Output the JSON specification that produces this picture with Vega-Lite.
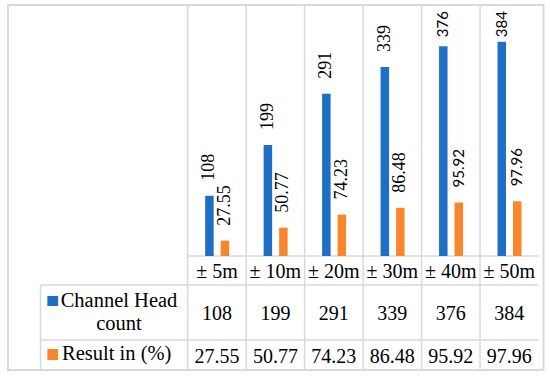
{
  "$schema": "https://vega.github.io/schema/vega-lite/v6.json",
  "width": 535.5,
  "height": 365,
  "autosize": {"type": "none"},
  "padding": {"left": 8, "top": 5, "right": 6.5, "bottom": 6},
  "config": {
    "view": {"stroke": "#d9d9d9", "strokeWidth": 2}
  },
  "data": {
    "values": [
      {"dist": "± 5m", "idx": 0, "series": "Channel Head count", "value": 108},
      {"dist": "± 10m", "idx": 1, "series": "Channel Head count", "value": 199},
      {"dist": "± 20m", "idx": 2, "series": "Channel Head count", "value": 291},
      {"dist": "± 30m", "idx": 3, "series": "Channel Head count", "value": 339},
      {"dist": "± 40m", "idx": 4, "series": "Channel Head count", "value": 376},
      {"dist": "± 50m", "idx": 5, "series": "Channel Head count", "value": 384},
      {"dist": "± 5m", "idx": 0, "series": "Result in (%)", "value": 27.55},
      {"dist": "± 10m", "idx": 1, "series": "Result in (%)", "value": 50.77},
      {"dist": "± 20m", "idx": 2, "series": "Result in (%)", "value": 74.23},
      {"dist": "± 30m", "idx": 3, "series": "Result in (%)", "value": 86.48},
      {"dist": "± 40m", "idx": 4, "series": "Result in (%)", "value": 95.92},
      {"dist": "± 50m", "idx": 5, "series": "Result in (%)", "value": 97.96}
    ]
  },
  "layer": [
    {"data": {"values": [{}]}, "mark": {"type": "rule", "color": "#d9d9d9", "strokeWidth": 1.5},
      "encoding": {"x": {"datum": -0.5, "type": "quantitative", "scale": {"type": "linear", "domain": [-3.4876, 5.5], "nice": false, "zero": false}, "axis": null},
        "y": {"datum": 450, "type": "quantitative", "scale": {"type": "linear", "domain": [-204.38, 450], "nice": false, "zero": false}, "axis": null}, "y2": {"datum": -204.38}}},
    {"data": {"values": [{}]}, "mark": {"type": "rule", "color": "#d9d9d9", "strokeWidth": 1.5},
      "encoding": {"x": {"datum": 0.5, "type": "quantitative", "scale": {"type": "linear", "domain": [-3.4876, 5.5], "nice": false, "zero": false}, "axis": null},
        "y": {"datum": 450, "type": "quantitative", "scale": {"type": "linear", "domain": [-204.38, 450], "nice": false, "zero": false}, "axis": null}, "y2": {"datum": -204.38}}},
    {"data": {"values": [{}]}, "mark": {"type": "rule", "color": "#d9d9d9", "strokeWidth": 1.5},
      "encoding": {"x": {"datum": 1.5, "type": "quantitative", "scale": {"type": "linear", "domain": [-3.4876, 5.5], "nice": false, "zero": false}, "axis": null},
        "y": {"datum": 450, "type": "quantitative", "scale": {"type": "linear", "domain": [-204.38, 450], "nice": false, "zero": false}, "axis": null}, "y2": {"datum": -204.38}}},
    {"data": {"values": [{}]}, "mark": {"type": "rule", "color": "#d9d9d9", "strokeWidth": 1.5},
      "encoding": {"x": {"datum": 2.5, "type": "quantitative", "scale": {"type": "linear", "domain": [-3.4876, 5.5], "nice": false, "zero": false}, "axis": null},
        "y": {"datum": 450, "type": "quantitative", "scale": {"type": "linear", "domain": [-204.38, 450], "nice": false, "zero": false}, "axis": null}, "y2": {"datum": -204.38}}},
    {"data": {"values": [{}]}, "mark": {"type": "rule", "color": "#d9d9d9", "strokeWidth": 1.5},
      "encoding": {"x": {"datum": 3.5, "type": "quantitative", "scale": {"type": "linear", "domain": [-3.4876, 5.5], "nice": false, "zero": false}, "axis": null},
        "y": {"datum": 450, "type": "quantitative", "scale": {"type": "linear", "domain": [-204.38, 450], "nice": false, "zero": false}, "axis": null}, "y2": {"datum": -204.38}}},
    {"data": {"values": [{}]}, "mark": {"type": "rule", "color": "#d9d9d9", "strokeWidth": 1.5},
      "encoding": {"x": {"datum": 4.5, "type": "quantitative", "scale": {"type": "linear", "domain": [-3.4876, 5.5], "nice": false, "zero": false}, "axis": null},
        "y": {"datum": 450, "type": "quantitative", "scale": {"type": "linear", "domain": [-204.38, 450], "nice": false, "zero": false}, "axis": null}, "y2": {"datum": -204.38}}},
    {
      "data": {"values": [{}]},
      "mark": {"type": "rule", "color": "#d9d9d9", "strokeWidth": 1.5},
      "encoding": {
        "x": {"datum": -0.5, "type": "quantitative", "scale": {"type": "linear", "domain": [-3.4876, 5.5], "nice": false, "zero": false}, "axis": null},
        "x2": {"datum": 5.5},
        "y": {"datum": 0, "type": "quantitative", "scale": {"type": "linear", "domain": [-204.38, 450], "nice": false, "zero": false}, "axis": null}
      }
    },
    {
      "data": {"values": [{}]},
      "mark": {"type": "rule", "color": "#d9d9d9", "strokeWidth": 1.5},
      "encoding": {
        "x": {"datum": -3.0173, "type": "quantitative", "scale": {"type": "linear", "domain": [-3.4876, 5.5], "nice": false, "zero": false}, "axis": null},
        "x2": {"datum": 5.5},
        "y": {"datum": -51.99, "type": "quantitative", "scale": {"type": "linear", "domain": [-204.38, 450], "nice": false, "zero": false}, "axis": null}
      }
    },
    {
      "data": {"values": [{}]},
      "mark": {"type": "rule", "color": "#d9d9d9", "strokeWidth": 1.5},
      "encoding": {
        "x": {"datum": -3.0173, "type": "quantitative", "scale": {"type": "linear", "domain": [-3.4876, 5.5], "nice": false, "zero": false}, "axis": null},
        "x2": {"datum": 5.5},
        "y": {"datum": -150.6, "type": "quantitative", "scale": {"type": "linear", "domain": [-204.38, 450], "nice": false, "zero": false}, "axis": null}
      }
    },
    {
      "data": {"values": [{}]},
      "mark": {"type": "rule", "color": "#d9d9d9", "strokeWidth": 1.5},
      "encoding": {
        "x": {"datum": -3.0173, "type": "quantitative", "scale": {"type": "linear", "domain": [-3.4876, 5.5], "nice": false, "zero": false}, "axis": null},
        "y": {"datum": -51.99, "type": "quantitative", "scale": {"type": "linear", "domain": [-204.38, 450], "nice": false, "zero": false}, "axis": null},
        "y2": {"datum": -204.38}
      }
    },
    {
      "transform": [{"filter": "datum.series === 'Channel Head count'"}],
      "mark": {"type": "bar", "orient": "vertical", "width": 8.5, "xOffset": -7.5, "color": "#1f70c4"},
      "encoding": {
        "x": {"field": "idx", "type": "quantitative", "scale": {"type": "linear", "domain": [-3.4876, 5.5], "nice": false, "zero": false}, "axis": null},
        "y": {"field": "value", "type": "quantitative", "scale": {"type": "linear", "domain": [-204.38, 450], "nice": false, "zero": false}, "axis": null}
      }
    },
    {
      "transform": [{"filter": "datum.series === 'Result in (%)'"}],
      "mark": {"type": "bar", "orient": "vertical", "width": 8.5, "xOffset": 8, "color": "#f7862c"},
      "encoding": {
        "x": {"field": "idx", "type": "quantitative", "scale": {"type": "linear", "domain": [-3.4876, 5.5], "nice": false, "zero": false}, "axis": null},
        "y": {"field": "value", "type": "quantitative", "scale": {"type": "linear", "domain": [-204.38, 450], "nice": false, "zero": false}, "axis": null}
      }
    },
    {
      "transform": [{"filter": "datum.series === 'Channel Head count' && datum.idx <= 3"}],
      "mark": {"type": "text", "angle": 270, "align": "left", "baseline": "middle", "yOffset": -15, "xOffset": -7.5, "fontSize": 18, "font": "Liberation Serif", "color": "#000000"},
      "encoding": {
        "x": {"field": "idx", "type": "quantitative", "scale": {"type": "linear", "domain": [-3.4876, 5.5], "nice": false, "zero": false}, "axis": null},
        "y": {"field": "value", "type": "quantitative", "scale": {"type": "linear", "domain": [-204.38, 450], "nice": false, "zero": false}, "axis": null},
        "text": {"field": "value", "type": "quantitative", "format": "d"}
      }
    },
    {
      "transform": [{"filter": "datum.series === 'Channel Head count' && datum.idx >= 4"}],
      "mark": {"type": "text", "angle": 270, "align": "right", "baseline": "middle", "xOffset": -7.5, "fontSize": 15, "font": "Lato", "color": "#000000"},
      "encoding": {
        "x": {"field": "idx", "type": "quantitative", "scale": {"type": "linear", "domain": [-3.4876, 5.5], "nice": false, "zero": false}, "axis": null},
        "y": {"datum": 439.2, "type": "quantitative", "scale": {"type": "linear", "domain": [-204.38, 450], "nice": false, "zero": false}, "axis": null},
        "text": {"field": "value", "type": "quantitative", "format": "d"}
      }
    },
    {
      "transform": [{"filter": "datum.series === 'Result in (%)' && datum.idx <= 3"}],
      "mark": {"type": "text", "angle": 270, "align": "left", "baseline": "middle", "yOffset": -15, "xOffset": 8, "fontSize": 18, "font": "Liberation Serif", "color": "#000000"},
      "encoding": {
        "x": {"field": "idx", "type": "quantitative", "scale": {"type": "linear", "domain": [-3.4876, 5.5], "nice": false, "zero": false}, "axis": null},
        "y": {"field": "value", "type": "quantitative", "scale": {"type": "linear", "domain": [-204.38, 450], "nice": false, "zero": false}, "axis": null},
        "text": {"field": "value", "type": "quantitative", "format": ".2f"}
      }
    },
    {
      "transform": [{"filter": "datum.series === 'Result in (%)' && datum.idx >= 4"}],
      "mark": {"type": "text", "angle": 270, "align": "left", "baseline": "middle", "yOffset": -15, "xOffset": 8, "fontSize": 15, "font": "Lato", "color": "#000000"},
      "encoding": {
        "x": {"field": "idx", "type": "quantitative", "scale": {"type": "linear", "domain": [-3.4876, 5.5], "nice": false, "zero": false}, "axis": null},
        "y": {"field": "value", "type": "quantitative", "scale": {"type": "linear", "domain": [-204.38, 450], "nice": false, "zero": false}, "axis": null},
        "text": {"field": "value", "type": "quantitative", "format": ".2f"}
      }
    },
    {
      "transform": [{"filter": "datum.series === 'Channel Head count'"}],
      "mark": {"type": "text", "align": "center", "baseline": "alphabetic", "fontSize": 20, "font": "Liberation Serif", "color": "#000000"},
      "encoding": {
        "x": {"field": "idx", "type": "quantitative", "scale": {"type": "linear", "domain": [-3.4876, 5.5], "nice": false, "zero": false}, "axis": null},
        "y": {"datum": -39.44, "type": "quantitative", "scale": {"type": "linear", "domain": [-204.38, 450], "nice": false, "zero": false}, "axis": null},
        "text": {"field": "dist", "type": "nominal"}
      }
    },
    {
      "transform": [{"filter": "datum.series === 'Channel Head count'"}],
      "mark": {"type": "text", "align": "center", "baseline": "alphabetic", "fontSize": 20, "font": "Liberation Serif", "color": "#000000"},
      "encoding": {
        "x": {"field": "idx", "type": "quantitative", "scale": {"type": "linear", "domain": [-3.4876, 5.5], "nice": false, "zero": false}, "axis": null},
        "y": {"datum": -114.2, "type": "quantitative", "scale": {"type": "linear", "domain": [-204.38, 450], "nice": false, "zero": false}, "axis": null},
        "text": {"field": "value", "type": "quantitative", "format": "d"}
      }
    },
    {
      "transform": [{"filter": "datum.series === 'Result in (%)'"}],
      "mark": {"type": "text", "align": "center", "baseline": "alphabetic", "fontSize": 20, "font": "Liberation Serif", "color": "#000000"},
      "encoding": {
        "x": {"field": "idx", "type": "quantitative", "scale": {"type": "linear", "domain": [-3.4876, 5.5], "nice": false, "zero": false}, "axis": null},
        "y": {"datum": -191.8, "type": "quantitative", "scale": {"type": "linear", "domain": [-204.38, 450], "nice": false, "zero": false}, "axis": null},
        "text": {"field": "value", "type": "quantitative", "format": ".2f"}
      }
    },
    {
      "data": {"values": [{}]},
      "mark": {"type": "rect", "color": "#1f70c4"},
      "encoding": {
        "x": {"datum": -2.9001, "type": "quantitative", "scale": {"type": "linear", "domain": [-3.4876, 5.5], "nice": false, "zero": false}, "axis": null},
        "x2": {"datum": -2.7155},
        "y": {"datum": -71.71, "type": "quantitative", "scale": {"type": "linear", "domain": [-204.38, 450], "nice": false, "zero": false}, "axis": null},
        "y2": {"datum": -89.64}
      }
    },
    {
      "data": {"values": [{}]},
      "mark": {"type": "rect", "color": "#f7862c"},
      "encoding": {
        "x": {"datum": -2.9001, "type": "quantitative", "scale": {"type": "linear", "domain": [-3.4876, 5.5], "nice": false, "zero": false}, "axis": null},
        "x2": {"datum": -2.7155},
        "y": {"datum": -166.73, "type": "quantitative", "scale": {"type": "linear", "domain": [-204.38, 450], "nice": false, "zero": false}, "axis": null},
        "y2": {"datum": -186.45}
      }
    },
    {
      "data": {"values": [{}]},
      "mark": {"type": "text", "align": "center", "baseline": "alphabetic", "fontSize": 20.5, "lineHeight": 23, "font": "Liberation Serif", "color": "#000000"},
      "encoding": {
        "x": {"datum": -1.6749, "type": "quantitative", "scale": {"type": "linear", "domain": [-3.4876, 5.5], "nice": false, "zero": false}, "axis": null},
        "y": {"datum": -91.4, "type": "quantitative", "scale": {"type": "linear", "domain": [-204.38, 450], "nice": false, "zero": false}, "axis": null},
        "text": {"value": ["Channel Head", "count"]}
      }
    },
    {
      "data": {"values": [{}]},
      "mark": {"type": "text", "align": "left", "baseline": "alphabetic", "fontSize": 20.5, "font": "Liberation Serif", "color": "#000000"},
      "encoding": {
        "x": {"datum": -2.6484, "type": "quantitative", "scale": {"type": "linear", "domain": [-3.4876, 5.5], "nice": false, "zero": false}, "axis": null},
        "y": {"datum": -186.45, "type": "quantitative", "scale": {"type": "linear", "domain": [-204.38, 450], "nice": false, "zero": false}, "axis": null},
        "text": {"value": "Result in (%)"}
      }
    }
  ]
}
